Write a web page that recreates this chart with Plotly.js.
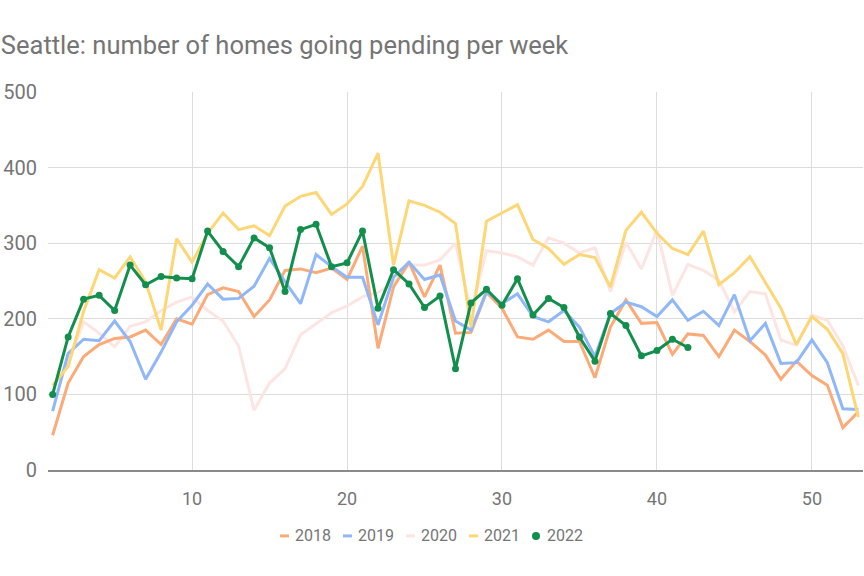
<!DOCTYPE html>
<html>
<head>
<meta charset="utf-8">
<script src="https://cdn.plot.ly/plotly-3.0.1.min.js"></script>
<style>html,body{margin:0;padding:0;background:#fff}#chart{width:864px;height:576px}</style>
</head>
<body>
<div id="chart"></div>
<script>
const weeks = Array.from({length: 53}, (_, i) => i + 1);
const weeks2022 = weeks.slice(0, 42);

const y2018 = [46,115,150,166,174,176,185,166,200,193,232,241,236,203,225,264,266,261,267,252,296,161,242,275,229,271,181,182,235,214,176,173,185,170,170,122,189,225,194,195,153,180,178,150,185,170,152,120,144,125,112,56,77];
const y2019 = [78,154,173,171,197,170,120,156,196,218,246,226,227,243,280,249,220,285,269,255,255,192,255,275,252,258,197,185,236,220,233,203,196,211,189,150,207,222,216,203,225,198,210,191,232,171,194,141,142,172,142,81,80];
const y2020 = [110,140,196,181,163,190,196,211,222,229,211,197,164,79,115,134,179,194,208,217,229,235,247,271,271,278,300,210,290,287,282,271,307,300,287,294,236,301,266,317,231,272,264,251,209,236,233,172,165,205,198,164,112];
const y2021 = [112,137,210,265,254,282,249,185,306,275,313,340,318,323,310,349,362,367,338,352,375,419,271,356,350,341,326,189,329,340,351,305,293,272,285,281,242,317,341,313,293,285,316,245,261,282,248,214,166,203,186,154,70];
const y2022 = [100,176,226,231,211,271,245,256,254,253,316,289,269,307,294,236,318,325,269,274,316,214,265,246,215,230,134,221,239,218,253,205,227,215,176,144,207,191,151,158,173,162];

const legendNames = ['2018','2019','2020','2021','2022'];
const colors = {
  '2018': '#fcaa78',
  '2019': '#90b7f7',
  '2020': '#fce5e2',
  '2021': '#fdd775',
  '2022': '#128f4c'
};
const xTicks = [10,20,30,40,50];
const yTicks = [0,100,200,300,400,500];

function lineTrace(name, y) {
  return {x: weeks.slice(0, y.length), y: y, name: name, type: 'scatter', mode: 'lines', showlegend: false,
          line: {color: colors[name], width: 3}};
}
const data = [
  lineTrace('2020', y2020),
  lineTrace('2018', y2018),
  lineTrace('2019', y2019),
  lineTrace('2021', y2021),
  {x: weeks2022, y: y2022, name: '2022', type: 'scatter', mode: 'lines+markers', showlegend: false,
   line: {color: colors['2022'], width: 3}, marker: {color: colors['2022'], size: 7}}
];

// custom legend (pixel layout -> paper coordinates)
const M = {l: 48, r: 1, t: 91.5, b: 106};
const W = 864, H = 576;
const pw = W - M.l - M.r, ph = H - M.t - M.b;
const px2x = px => (px - M.l) / pw;
const py2y = py => (H - M.b - py) / ph;
const legendY = 536;
const symStart = [280, 343, 406, 469, 532];
const shapes = [], annotations = [];
legendNames.forEach((n, i) => {
  const s = symStart[i];
  if (n === '2022') {
    shapes.push({type: 'circle', xref: 'paper', yref: 'paper', x0: px2x(s), x1: px2x(s + 8), y0: py2y(legendY + 4), y1: py2y(legendY - 4),
                 fillcolor: colors[n], line: {width: 0}});
  } else {
    shapes.push({type: 'line', xref: 'paper', yref: 'paper', x0: px2x(s), x1: px2x(s + 9), y0: py2y(legendY), y1: py2y(legendY),
                 line: {color: colors[n], width: 3}});
  }
  annotations.push({text: n, xref: 'paper', yref: 'paper', x: px2x(s + 14), y: py2y(legendY), xanchor: 'left', yanchor: 'middle',
                    showarrow: false, font: {size: 16, color: '#757575', family: 'Roboto, sans-serif'}, borderpad: 0});
});

const layout = {
  width: W, height: H,
  paper_bgcolor: '#ffffff', plot_bgcolor: '#ffffff',
  font: {family: 'Roboto, sans-serif', color: '#757575'},
  margin: {l: M.l, r: M.r, t: M.t, b: M.b, pad: 0},
  title: {text: 'Seattle: number of homes going pending per week', x: 0.001, xref: 'container', xanchor: 'left',
          y: 1 - 45/576, yref: 'container', yanchor: 'middle', font: {size: 25.5, color: '#757575', family: 'Roboto, sans-serif'}},
  xaxis: {range: [0.7, 53.3], tickvals: xTicks, ticktext: xTicks.map(String), showgrid: true, gridcolor: '#dcdcdc', gridwidth: 1,
          zeroline: false, showline: true, linecolor: '#8a8a8a', linewidth: 1.5, ticks: '', ticklabelstandoff: 12,
          tickfont: {size: 18, color: '#757575'}, fixedrange: true},
  yaxis: {range: [0, 500], tickvals: yTicks, ticktext: yTicks.map(String), showgrid: true, gridcolor: '#dcdcdc', gridwidth: 1,
          zeroline: false, showline: false, ticks: '', ticklabelstandoff: 10,
          tickfont: {size: 20, color: '#757575'}, fixedrange: true},
  showlegend: false,
  shapes: shapes,
  annotations: annotations
};

Plotly.newPlot('chart', data, layout, {displayModeBar: false, staticPlot: true});
</script>
</body>
</html>
